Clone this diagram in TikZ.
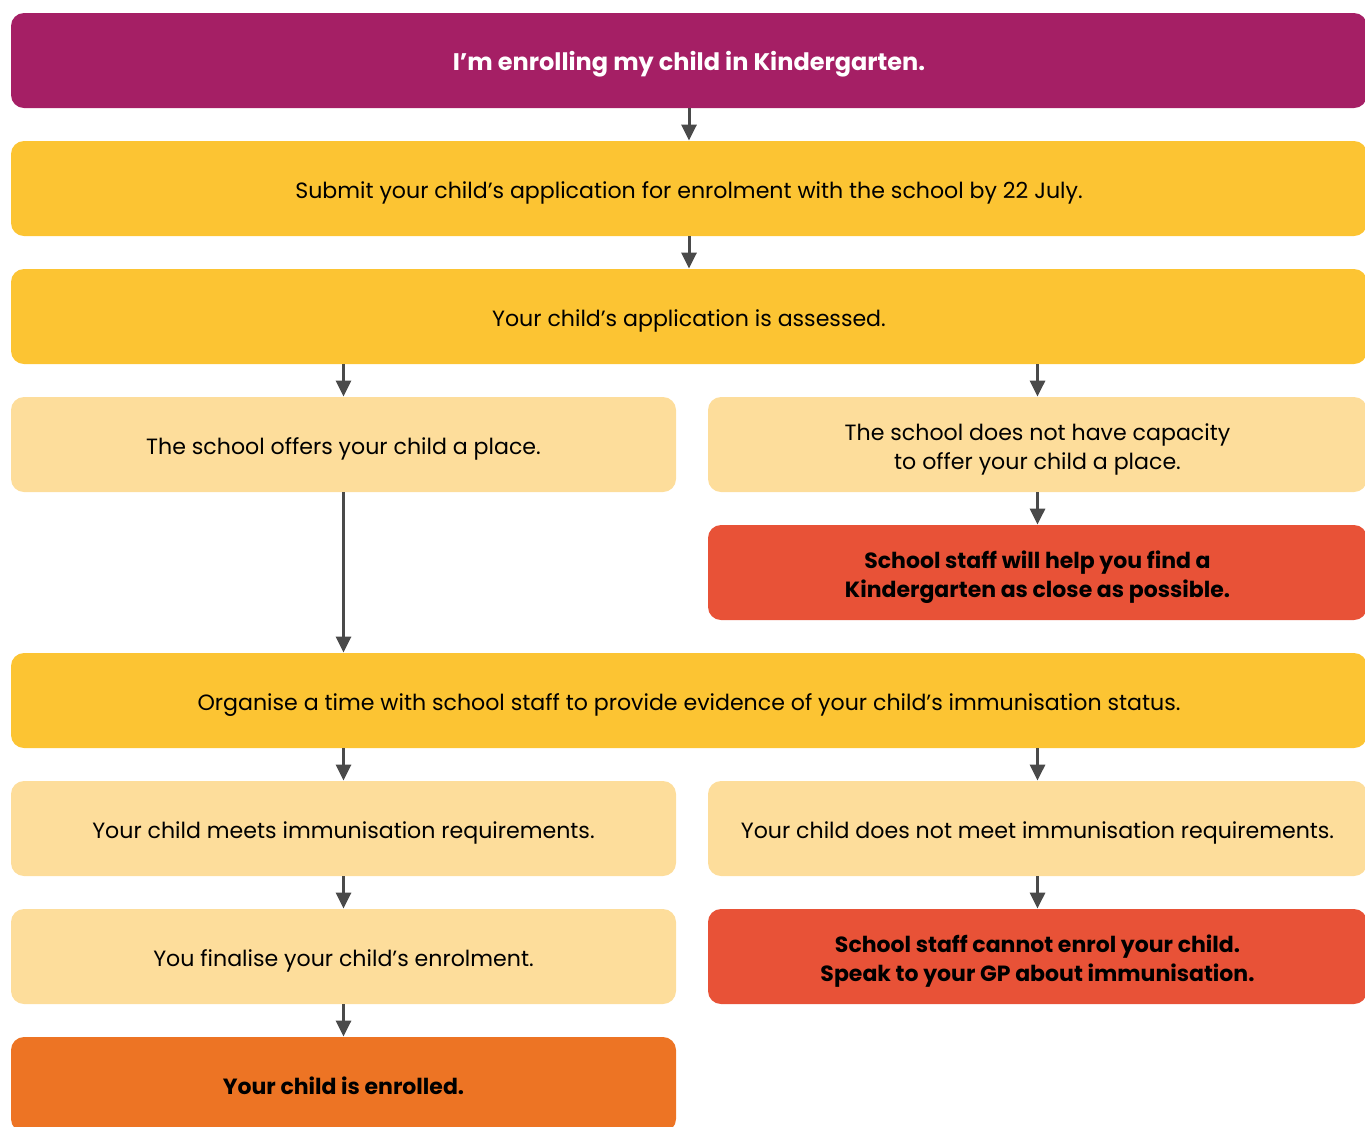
\documentclass[tikz,border=0pt]{standalone}
\usepackage{fontspec}
\setmainfont{Poppins}
\usetikzlibrary{arrows.meta}
\definecolor{kplum}{HTML}{A51F65}
\definecolor{kyellow}{HTML}{FCC433}
\definecolor{klight}{HTML}{FDDD9B}
\definecolor{kred}{HTML}{E85237}
\definecolor{korange}{HTML}{ED7424}
\definecolor{karrow}{HTML}{4A4A4A}

\begin{document}
\begin{tikzpicture}[x=0.5pt,y=-0.5pt,
    box/.style={rectangle,rounded corners=6.5pt,minimum height=47.5pt,inner sep=0pt,
      align=center,font=\fontsize{11.05}{14.5}\selectfont,
      execute at begin node={\rule[-3pt]{0pt}{16.3pt}}},
    twolines/.style={execute at begin node={\rule[-3pt]{0pt}{30.8pt}}},
    wide/.style={box,minimum width=678pt},
    left/.style={box,minimum width=332.5pt},
    right/.style={box,minimum width=329.5pt},
    strong/.style={font=\fontsize{11}{14.5}\selectfont\bfseries},
    title/.style={font=\fontsize{12}{14.5}\selectfont\bfseries},
    flow/.style={draw=karrow,line width=1.5pt,-{Triangle[length=8pt,width=7.5pt]}}]
    \useasboundingbox (0,0) rectangle (1365,1126);
    % the steps
    \node[wide,fill=kplum,text=white,title] (start) at (689,60.5) {I’m enrolling my child in Kindergarten.};
    \node[wide,fill=kyellow] (submit) at (689,188.5) {Submit your child’s application for enrolment with the school by 22 July.};
    \node[wide,fill=kyellow] (assess) at (689,316.5) {Your child’s application is assessed.};
    \node[left,fill=klight] (offer) at (343.5,444.5) {The school offers your child a place.};
    \node[right,fill=klight,twolines] (nocap) at (1037.5,444.5) {The school does not have capacity\\ to offer your child a place.};
    \node[right,fill=kred,strong,twolines] (help) at (1037.5,572.5) {School staff will help you find a\\ Kindergarten as close as possible.};
    \node[wide,fill=kyellow] (organise) at (689,700.5) {Organise a time with school staff to provide evidence of your child’s immunisation status.};
    \node[left,fill=klight] (meets) at (343.5,828.5) {Your child meets immunisation requirements.};
    \node[right,fill=klight] (notmeet) at (1037.5,828.5) {Your child does not meet immunisation requirements.};
    \node[left,fill=klight] (finalise) at (343.5,956.5) {You finalise your child’s enrolment.};
    \node[right,fill=kred,strong,twolines] (cannot) at (1037.5,956.5) {School staff cannot enrol your child.\\ Speak to your GP about immunisation.};
    \node[left,fill=korange,strong] (enrolled) at (343.5,1084.5) {Your child is enrolled.};
    % the arrows
    \draw[flow] (start) -- (submit);
    \draw[flow] (submit) -- (assess);
    \draw[flow] (offer |- assess.south) -- (offer);
    \draw[flow] (nocap |- assess.south) -- (nocap);
    \draw[flow] (nocap) -- (help);
    \draw[flow] (offer) -- (offer |- organise.north);
    \draw[flow] (meets |- organise.south) -- (meets);
    \draw[flow] (notmeet |- organise.south) -- (notmeet);
    \draw[flow] (meets) -- (finalise);
    \draw[flow] (notmeet) -- (cannot);
    \draw[flow] (finalise) -- (enrolled);
\end{tikzpicture}
\end{document}
